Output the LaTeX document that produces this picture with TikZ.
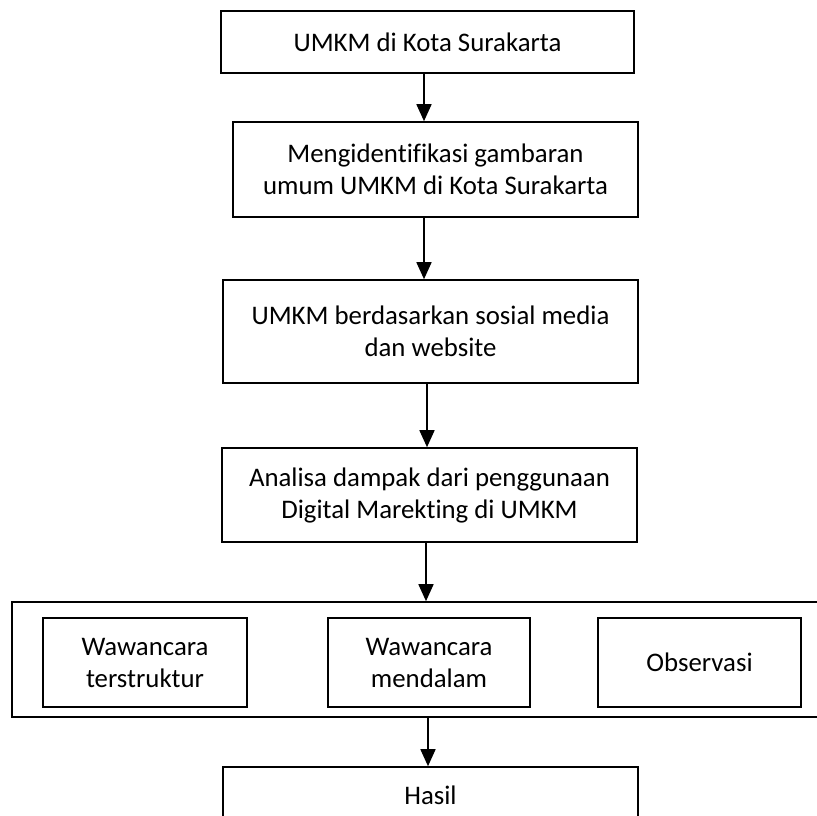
\documentclass[tikz,border=0pt]{standalone}
\usepackage{fontspec}
\setmainfont{Carlito}[RawFeature=-liga]
\usetikzlibrary{arrows.meta}

\tikzset{
  box/.style={draw, line width=1.6pt, align=center, inner sep=0pt,
    font=\fontsize{26.8}{32}\selectfont},
  arr/.style={line width=1.6pt, -{Triangle[width=15pt,length=17pt]}}
}

\begin{document}
\begin{tikzpicture}[x=1pt, y=-1pt]
        \clip (0,0) rectangle (817,816);
        \useasboundingbox (0,0) rectangle (817,816);

        % alur utama
        \node[box, minimum width=413pt, minimum height=62pt] (umkm) at (427.5,42) {UMKM di Kota Surakarta};
        \node[box, minimum width=405pt, minimum height=95pt] (ident) at (435.5,169.5) {Mengidentifikasi gambaran\\umum UMKM di Kota Surakarta};
        \node[box, minimum width=415pt, minimum height=103pt] (sosmed) at (430.5,331.5) {UMKM berdasarkan sosial media\\dan website};
        \node[box, minimum width=415pt, minimum height=94pt] (analisa) at (429.5,495) {Analisa dampak dari penggunaan\\Digital Marekting di UMKM};

        % metode
        \node[box, minimum width=818pt, minimum height=115pt] (metode) at (421,659.5) {};
        \node[box, minimum width=204pt, minimum height=89pt] (wstr) at (145,662.5) {Wawancara\\terstruktur};
        \node[box, minimum width=202pt, minimum height=89pt] (wdlm) at (429,662.5) {Wawancara\\mendalam};
        \node[box, minimum width=203pt, minimum height=89pt] (obs) at (699.5,662.5) {Observasi};

        \node[box, minimum width=415pt, minimum height=56pt] (hasil) at (430.5,795) {Hasil};

        \draw[arr] (umkm.south -| 424,0) -- (ident.north -| 424,0);
        \draw[arr] (ident.south -| 424,0) -- (sosmed.north -| 424,0);
        \draw[arr] (sosmed.south -| 427,0) -- (analisa.north -| 427,0);
        \draw[arr] (analisa.south -| 426,0) -- (metode.north -| 426,0);
        \draw[arr] (metode.south -| 428,0) -- (hasil.north -| 428,0);
\end{tikzpicture}
\end{document}
